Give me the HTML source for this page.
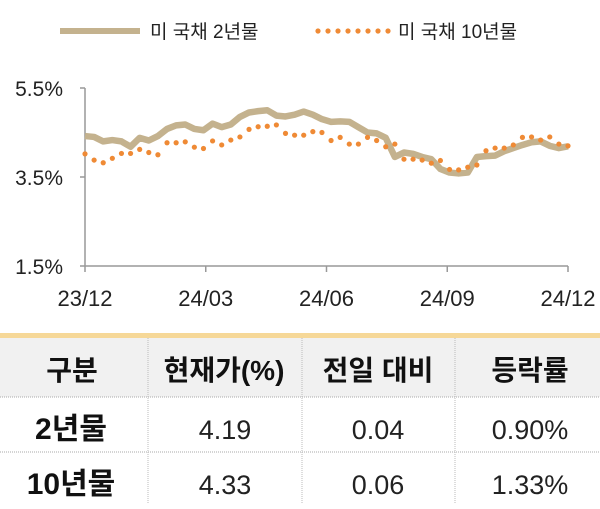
<!DOCTYPE html>
<html><head><meta charset="utf-8">
<style>
body{margin:0;width:600px;height:504px;background:#fff;overflow:hidden;font-family:"Liberation Sans","Noto Sans CJK KR",sans-serif;}
svg text{font-family:"Liberation Sans","Noto Sans CJK KR",sans-serif;}
</style></head>
<body>
<svg id="chart" width="600" height="504" viewBox="0 0 600 504">
<g>
<line x1="60" y1="31" x2="140" y2="31" stroke="#c4b28e" stroke-width="6"/>
<text x="150" y="38" font-size="19" fill="#222">미 국채 2년물</text>
<g id="legdots"></g>
<text x="398" y="38" font-size="19" fill="#222">미 국채 10년물</text>
</g>
<g id="axes"></g>
<g id="series"></g>
<g>
<rect x="0" y="333" width="600" height="5" fill="#f6d898"/>
<rect x="0" y="338" width="600" height="59" fill="#f1f1f1"/>
<line x1="0" y1="397" x2="600" y2="397" stroke="#aaa" stroke-dasharray="1,1"/>
<line x1="0" y1="452" x2="600" y2="452" stroke="#aaa" stroke-dasharray="1,1"/>
<line x1="148" y1="338" x2="148" y2="504" stroke="#bbb" stroke-dasharray="1,1"/>
<line x1="302" y1="338" x2="302" y2="504" stroke="#bbb" stroke-dasharray="1,1"/>
<line x1="455" y1="338" x2="455" y2="504" stroke="#bbb" stroke-dasharray="1,1"/>
<g font-size="28" fill="#111" text-anchor="middle" font-weight="bold">
<text x="72" y="380">구분</text>
<text x="224" y="380">현재가(%)</text>
<text x="378" y="380">전일 대비</text>
<text x="530" y="380">등락률</text>
<text x="71" y="439" font-size="30">2년물</text>
<text x="71" y="494" font-size="30">10년물</text>
</g>
<g font-size="27" fill="#222" text-anchor="middle">
<text x="225" y="439">4.19</text>
<text x="378" y="439">0.04</text>
<text x="530" y="439">0.90%</text>
<text x="225" y="494">4.33</text>
<text x="378" y="494">0.06</text>
<text x="530" y="494">1.33%</text>
</g>
</g>
</svg>
<script>
const xTicks=["23/12","24/03","24/06","24/09","24/12"];
const yTicks=[5.5,3.5,1.5];
const y2=[4.42,4.40,4.30,4.33,4.30,4.18,4.38,4.32,4.42,4.58,4.66,4.68,4.58,4.55,4.70,4.62,4.68,4.85,4.95,4.98,5.00,4.88,4.86,4.90,4.97,4.90,4.80,4.74,4.75,4.74,4.62,4.50,4.48,4.38,3.95,4.05,4.02,3.95,3.90,3.68,3.60,3.58,3.60,3.95,3.97,3.98,4.08,4.15,4.22,4.28,4.30,4.20,4.15,4.19];
const y10=[4.02,3.88,3.82,3.92,4.03,4.03,4.12,4.05,4.00,4.27,4.27,4.29,4.17,4.14,4.31,4.22,4.33,4.40,4.57,4.63,4.64,4.67,4.48,4.44,4.44,4.52,4.50,4.32,4.39,4.24,4.24,4.39,4.32,4.18,4.24,3.90,3.90,3.88,3.81,3.87,3.67,3.66,3.72,3.77,4.09,4.15,4.15,4.22,4.39,4.40,4.33,4.40,4.24,4.20];
const NS="http://www.w3.org/2000/svg";
const X0=85,X1=568,Y0=266,Y1=88;
function xs(i,n){return X0+i/(n-1)*(X1-X0);}
function ys(v){return Y0-(v-1.5)/(5.5-1.5)*(Y0-Y1);}
function mk(tag,attrs,parent){const e=document.createElementNS(NS,tag);for(const k in attrs)e.setAttribute(k,attrs[k]);parent.appendChild(e);return e;}
const ax=document.getElementById('axes');
let a=mk('line',{x1:X0,y1:Y1,x2:X0,y2:Y0,stroke:'#999','stroke-width':1.5},ax);


a=mk('line',{x1:X0,y1:Y0,x2:X1,y2:Y0,stroke:'#999','stroke-width':1.5},ax);


yTicks.forEach(v=>{
 const t=mk('line',{x1:X0-5,y1:ys(v),x2:X0,y2:ys(v),stroke:'#999','stroke-width':1.5},ax);
 
 
 const l=mk('text',{x:63,y:ys(v)+8,'font-size':21,fill:'#222','text-anchor':'end'},ax);
 l.textContent=v.toFixed(1)+'%';
 
 
});
xTicks.forEach((s,i)=>{
 const x=xs(i,xTicks.length);
 const t=mk('line',{x1:x,y1:Y0,x2:x,y2:Y0+6,stroke:'#999','stroke-width':1.5},ax);
 
 
 const l=mk('text',{x:x,y:306,'font-size':22,fill:'#222','text-anchor':'middle'},ax);
 l.textContent=s;
 
 
});
const sg=document.getElementById('series');
const p=mk('polyline',{points:y2.map((v,i)=>xs(i,y2.length)+','+ys(v)).join(' '),fill:'none',stroke:'#c4b28e','stroke-width':6.5,'stroke-linejoin':'round'},sg);


y10.forEach((v,i)=>{
 const c=mk('circle',{cx:xs(i,y10.length),cy:ys(v),r:2.6,fill:'#ef8a35'},sg);
 
 
});
const ld=document.getElementById('legdots');
for(let k=0;k<8;k++){mk('circle',{cx:318+k*10,cy:31,r:2.6,fill:'#ef8a35'},ld);}
</script>
</body></html>
